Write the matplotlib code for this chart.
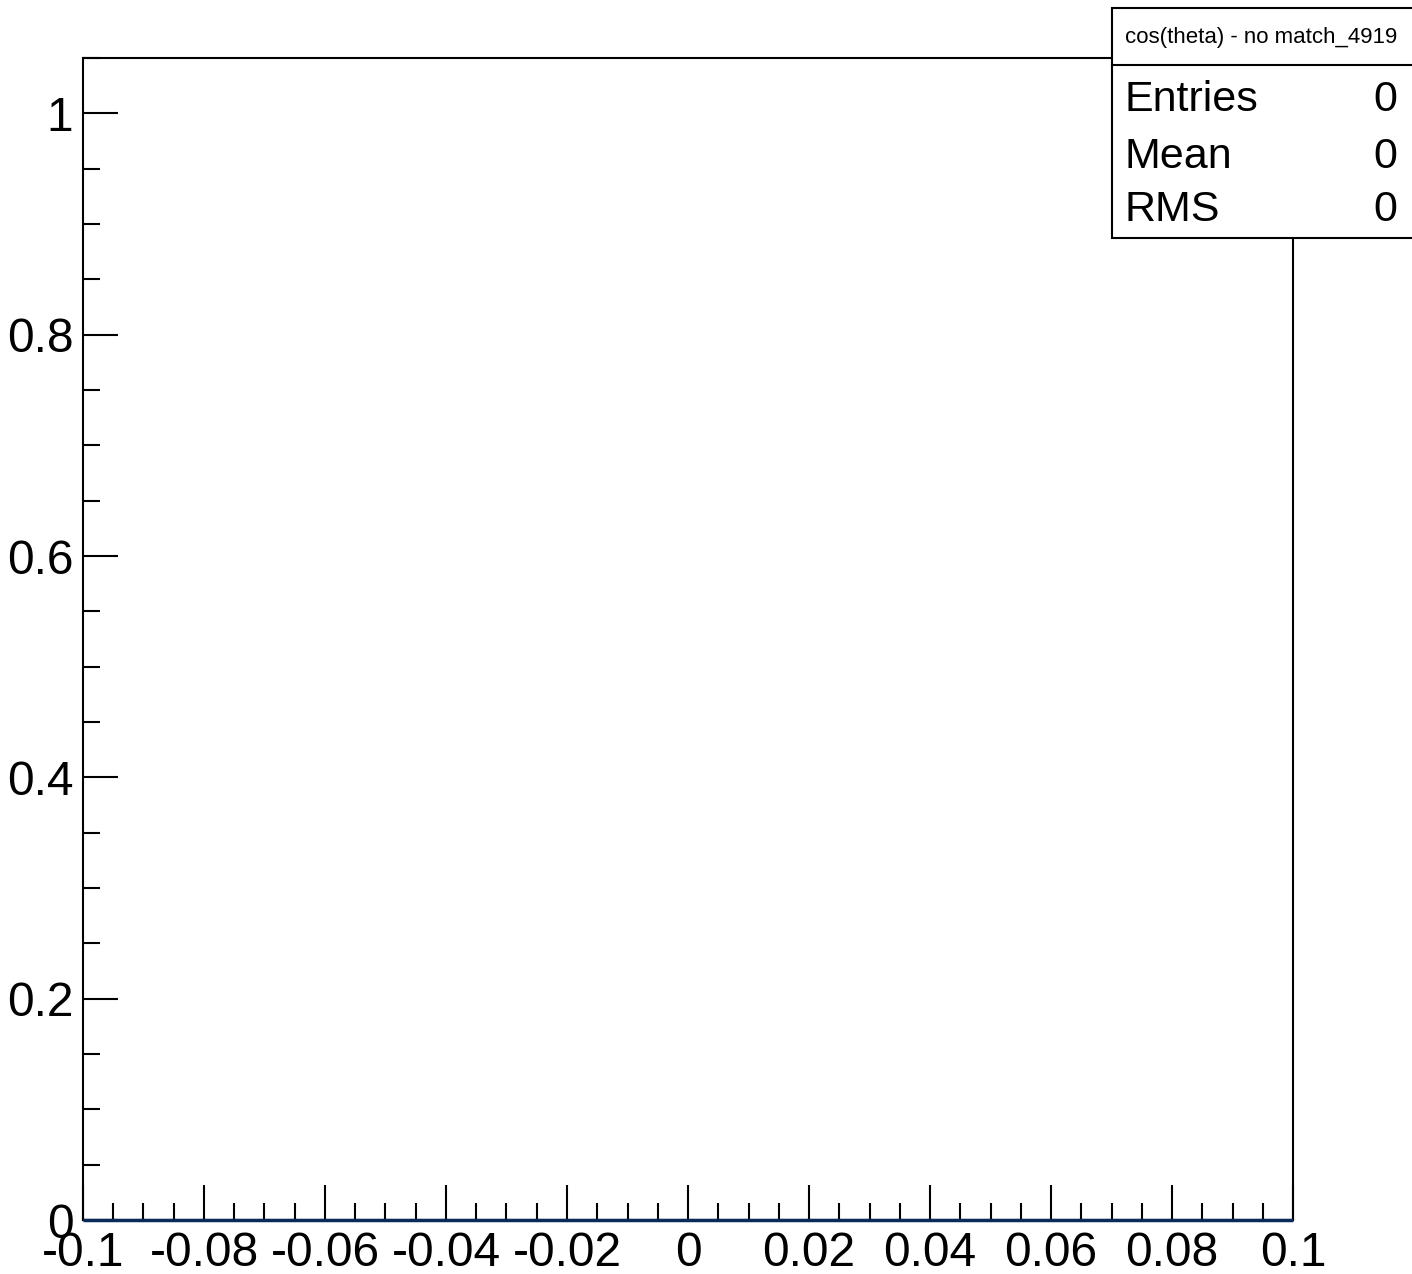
import matplotlib
matplotlib.use("Agg")
import matplotlib.pyplot as plt
from matplotlib.patches import Rectangle
from matplotlib.lines import Line2D
from matplotlib.ticker import MultipleLocator, FixedLocator

plt.rcParams['font.family'] = ['Liberation Sans', 'DejaVu Sans']

# Data
hist_edges = [-0.1, 0.1]
hist_counts = [0]
x_ticks = [-0.1, -0.08, -0.06, -0.04, -0.02, 0, 0.02, 0.04, 0.06, 0.08, 0.1]
x_tick_labels = ["-0.1", "-0.08", "-0.06", "-0.04", "-0.02", "0", "0.02", "0.04", "0.06", "0.08", "0.1"]
y_ticks = [0, 0.2, 0.4, 0.6, 0.8, 1.0]
y_tick_labels = ["0", "0.2", "0.4", "0.6", "0.8", "1"]
y_max = 1.05
stats_title = "cos(theta) - no match_4919"
stats_names = ["Entries", "Mean", "RMS"]
stats_values = ["0", "0", "0"]

W, H = 1412, 1274
fig = plt.figure(figsize=(W / 100, H / 100), dpi=100)
ax = fig.add_axes([83 / W, 1 - 1220 / H, (1293 - 83) / W, (1220 - 58) / H])

ax.set_xlim(hist_edges[0], hist_edges[-1])
ax.set_ylim(0, y_max)
ax.xaxis.set_major_locator(FixedLocator(x_ticks))
ax.set_xticklabels(x_tick_labels)
ax.yaxis.set_major_locator(FixedLocator(y_ticks))
ax.set_yticklabels(y_tick_labels)
ax.xaxis.set_minor_locator(MultipleLocator(0.005))
ax.yaxis.set_minor_locator(MultipleLocator(0.05))

ax.tick_params(which='both', direction='in', top=False, right=False, width=1.5, colors='black')
ax.tick_params(which='major', length=25.2, labelsize=34.5)
ax.tick_params(which='minor', length=12.2)
ax.tick_params(axis='x', which='major', pad=8)
ax.tick_params(axis='y', which='major', pad=7)
for s in ax.spines.values():
    s.set_linewidth(1.5)
    s.set_color('black')

# empty histogram drawn on top of the bottom frame line
ax.stairs(hist_counts, hist_edges, color='#0a2a5a', linewidth=2.5, zorder=5,
          clip_on=False, baseline=None)

# Stats box (figure pixel coordinates)
def fx(px):
    return px / W

def fy(py):
    return 1 - py / H

box = Rectangle((fx(1112), fy(238)), fx(1420) - fx(1112), fy(8) - fy(238),
                transform=fig.transFigure, facecolor='white', edgecolor='black',
                linewidth=1.5, zorder=10)
fig.patches.append(box)
fig.lines.append(Line2D([fx(1112), fx(1420)], [fy(65), fy(65)], transform=fig.transFigure,
                        color='black', linewidth=1.5, zorder=11))
fig.text(fx(1261), fy(37), stats_title, ha='center', va='center', fontsize=16, zorder=12)
baselines = [111, 168, 221]
for name, val, b in zip(stats_names, stats_values, baselines):
    fig.text(fx(1125), fy(b), name, ha='left', va='baseline', fontsize=31, zorder=12)
    fig.text(fx(1397), fy(b), val, ha='right', va='baseline', fontsize=31, zorder=12)

fig.savefig("out.png", dpi=100, facecolor='white')
